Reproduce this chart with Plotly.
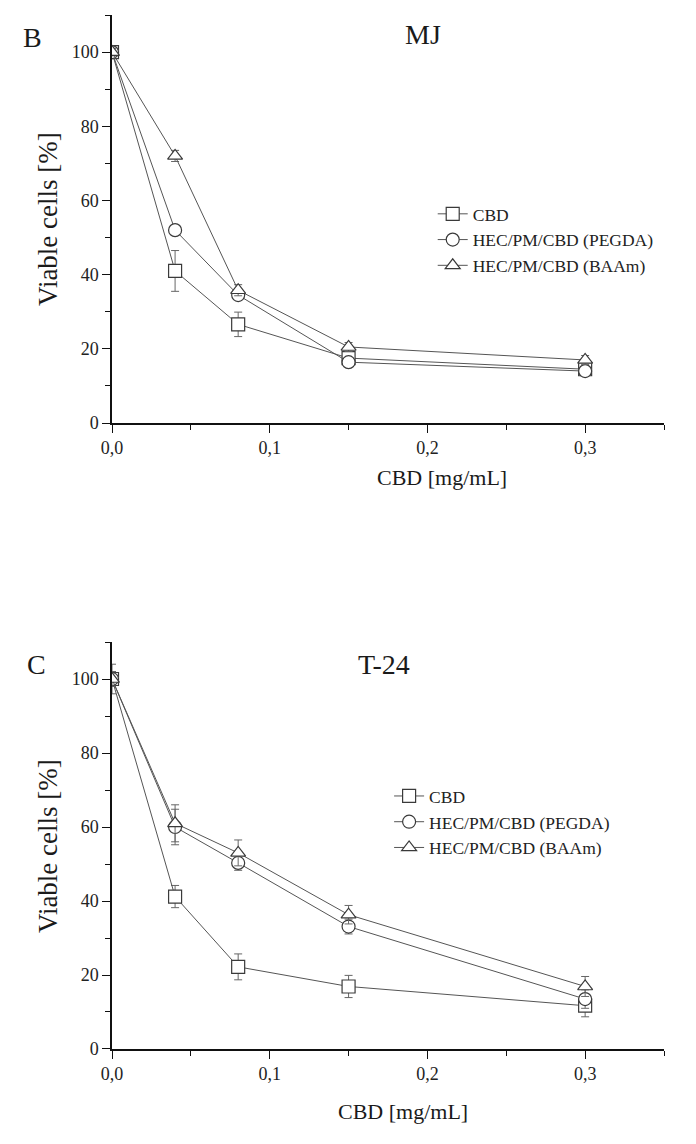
import plotly.graph_objects as go

x_vals = [0.0, 0.04, 0.08, 0.15, 0.30]
series_names = ["CBD", "HEC/PM/CBD (PEGDA)", "HEC/PM/CBD (BAAm)"]
symbols = ["square", "circle", "triangle-up"]

# Panel B: MJ
mj_cbd = [100, 41.0, 26.6, 17.5, 14.5]
mj_cbd_err = [1.0, 5.5, 3.3, 1.0, 1.0]
mj_pegda = [100, 52.0, 34.5, 16.4, 14.0]
mj_pegda_err = [1.0, 1.0, 1.2, 1.0, 1.0]
mj_baam = [100, 72.0, 35.8, 20.5, 17.0]
mj_baam_err = [1.0, 1.5, 1.5, 1.2, 1.2]

# Panel C: T-24
t24_cbd = [100, 41.2, 22.2, 16.9, 11.7]
t24_cbd_err = [4.0, 3.0, 3.5, 3.0, 3.0]
t24_pegda = [100, 60.0, 50.3, 33.1, 13.5]
t24_pegda_err = [2.0, 4.8, 2.0, 2.0, 2.5]
t24_baam = [100, 61.0, 53.0, 36.3, 16.9]
t24_baam_err = [2.0, 5.0, 3.5, 2.5, 2.7]

x_ticks = [0.0, 0.1, 0.2, 0.3]
x_tick_labels = ["0,0", "0,1", "0,2", "0,3"]
y_ticks = [0, 20, 40, 60, 80, 100]

FONT = "Liberation Serif, Times New Roman, serif"
LINE_COL = "#555555"
MARK_COL = "#3a3a3a"

fig = go.Figure()

panels = [
    ("x", "y", "legend", [mj_cbd, mj_pegda, mj_baam], [mj_cbd_err, mj_pegda_err, mj_baam_err]),
    ("x2", "y2", "legend2", [t24_cbd, t24_pegda, t24_baam], [t24_cbd_err, t24_pegda_err, t24_baam_err]),
]
for xa, ya, leg, ys, errs in panels:
    for name, sym, yv, ev in zip(series_names, symbols, ys, errs):
        fig.add_trace(go.Scatter(
            x=x_vals, y=yv, name=name, mode="lines+markers",
            xaxis=xa, yaxis=ya, legend=leg,
            line=dict(color=LINE_COL, width=1),
            marker=dict(symbol=sym, size=13, color="white",
                        line=dict(color=MARK_COL, width=1.2)),
            error_y=dict(type="data", array=ev, visible=True, color="#666666",
                         thickness=1, width=4),
        ))

axis_common = dict(
    showline=True, linecolor="#111111", linewidth=1.5, mirror=False,
    showgrid=False, zeroline=False, ticks="outside", ticklen=8, tickwidth=1.3,
    tickcolor="#111111", tickfont=dict(family=FONT, size=18, color="#222222"),
)
xaxis_common = dict(axis_common, range=[0, 0.35], tickvals=x_ticks, ticktext=x_tick_labels,
                    minor=dict(ticks="outside", ticklen=5, dtick=0.05, tick0=0, tickcolor="#111111", tickwidth=1.2))
yaxis_common = dict(axis_common, range=[0, 110], tickvals=y_ticks,
                    minor=dict(ticks="outside", ticklen=5, dtick=10, tick0=0, tickcolor="#111111", tickwidth=1.2))

top_dom = [0.6054, 1.0]
bot_dom = [0.0, 0.3936]

legend_common = dict(font=dict(family=FONT, size=17.5, color="#222222"), bgcolor="rgba(0,0,0,0)",
                     xanchor="left", yanchor="top", tracegroupgap=0, itemwidth=30)

fig.update_layout(
    width=688, height=1136,
    margin=dict(l=104, r=32, t=7, b=95),
    paper_bgcolor="white", plot_bgcolor="white",
    font=dict(family=FONT),
    showlegend=True,
    xaxis=dict(xaxis_common, domain=[0, 1], anchor="y"),
    yaxis=dict(yaxis_common, domain=top_dom, anchor="x"),
    xaxis2=dict(xaxis_common, domain=[0, 1], anchor="y2"),
    yaxis2=dict(yaxis_common, domain=bot_dom, anchor="x2"),
    legend=dict(legend_common, x=0.581, y=0.825),
    legend2=dict(legend_common, x=0.502, y=0.262),
)

H = 1034.0
def py(px):
    return (1049 - px) / H

def pxx(px):
    return (px - 112) / 552.0

ann = [
    dict(text="B", x=pxx(32), y=py(38), size=28),
    dict(text="MJ", x=pxx(423), y=py(34), size=28),
    dict(text="C", x=pxx(36), y=py(665), size=28),
    dict(text="T-24", x=pxx(384), y=py(665), size=28),
    dict(text="CBD [mg/mL]", x=pxx(442), y=py(478), size=22),
    dict(text="CBD [mg/mL]", x=pxx(403), y=py(1111), size=22),
]
for a in ann:
    fig.add_annotation(text=a["text"], x=a["x"], y=a["y"], xref="paper", yref="paper",
                       showarrow=False, xanchor="center", yanchor="middle",
                       font=dict(family=FONT, size=a["size"], color="#1a1a1a"))
for yc in [219, 846]:
    fig.add_annotation(text="Viable cells [%]", x=pxx(48), y=py(yc), xref="paper", yref="paper",
                       showarrow=False, textangle=-90, xanchor="center", yanchor="middle",
                       font=dict(family=FONT, size=27, color="#1a1a1a"))

fig.write_html("out.html")
